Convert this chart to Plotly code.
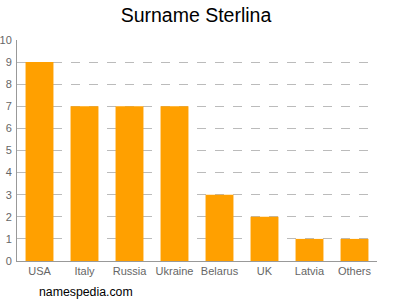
import plotly.graph_objects as go

categories = ["USA", "Italy", "Russia", "Ukraine", "Belarus", "UK", "Latvia", "Others"]
values = [9, 7, 7, 7, 3, 2, 1, 1]
y_ticks = list(range(0, 11))

fig = go.Figure(go.Bar(x=categories, y=values, marker=dict(color="#FFA000", line=dict(width=0)), width=0.62))

fig.update_layout(
    width=400, height=300,
    margin=dict(l=17, r=23, t=40, b=39),
    paper_bgcolor="white", plot_bgcolor="white",
    font=dict(family="Liberation Sans, Arial, sans-serif", color="#666666", size=11),
    title=dict(text="Surname Sterlina", x=0.49, xanchor="center", y=0.95, yanchor="middle",
               font=dict(size=19.5, color="#000000")),
    showlegend=False,
    bargap=0.38,
)
fig.update_yaxes(range=[0, 10], tickvals=y_ticks, showgrid=True, gridcolor="#BBBBBB", griddash="dash",
                 gridwidth=1, showline=True, linecolor="#999999", linewidth=1, ticks="", zeroline=False,
                 fixedrange=True, automargin=False, ticklabelstandoff=2)
fig.update_xaxes(showline=True, linecolor="#999999", linewidth=1, ticks="", fixedrange=True,
                 range=[-0.5, 7.5], automargin=False)
fig.add_annotation(text="namespedia.com", xref="paper", yref="paper", x=0.055, y=-0.14,
                   xanchor="left", yanchor="middle", showarrow=False,
                   font=dict(size=12.3, color="#000000"))

fig.write_html("out.html")
